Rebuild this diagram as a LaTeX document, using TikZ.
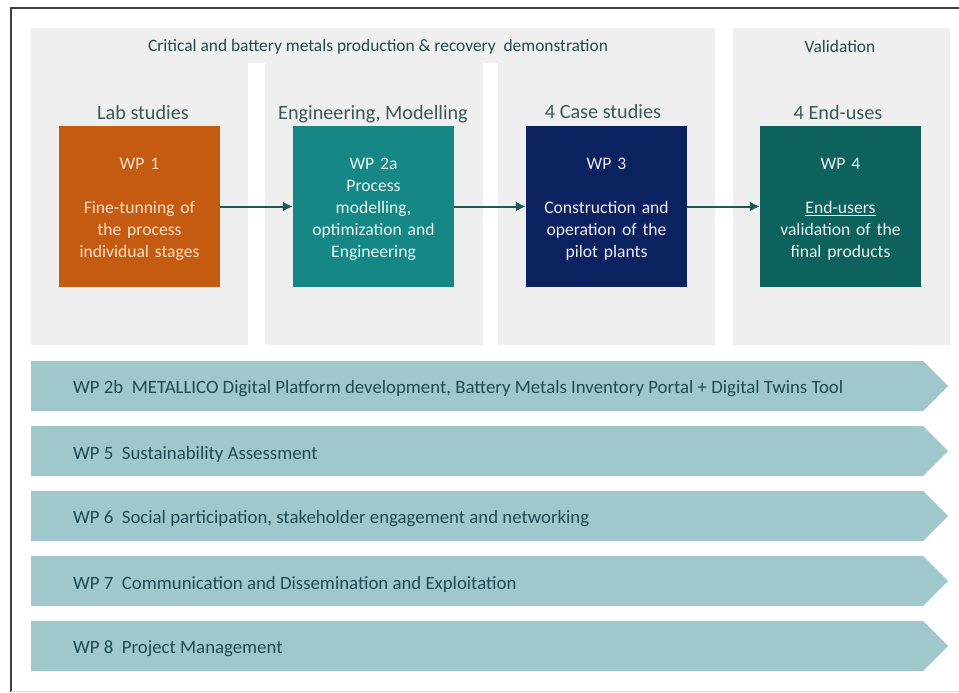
\documentclass[tikz,border=0pt]{standalone}
\usepackage{fontspec}
\setmainfont{Carlito}
\usetikzlibrary{arrows.meta}
\definecolor{panelgray}{HTML}{EFEFEF}
\definecolor{bandfill}{HTML}{A0C8CC}
\definecolor{bandtext}{HTML}{1E4A54}
\definecolor{headtext}{HTML}{1F4C4E}
\definecolor{subtext}{HTML}{3A5858}
\definecolor{wporange}{HTML}{C55A11}
\definecolor{wpteal}{HTML}{158886}
\definecolor{wpnavy}{HTML}{0C2160}
\definecolor{wpdark}{HTML}{0E625C}
\definecolor{arrowcol}{HTML}{1F5858}
\definecolor{peach}{HTML}{FBE2CF}
\tikzset{
  panel/.style={fill=panelgray, draw=none},
  wpbox/.style={minimum width=161pt, minimum height=161pt, inner sep=0pt,
    align=center, text width=158pt, font=\fontsize{17.6}{22}\selectfont, draw=none},
  wptext/.style={align=center, text width=158pt, inner sep=0pt,
    font=\fontsize{17.6}{22}\selectfont},
  flowarrow/.style={draw=arrowcol, line width=2pt, -{Latex[length=10pt,width=10pt]}},
  headlabel/.style={text=headtext, font=\fontsize{17.4}{19}\selectfont},
  sublabel/.style={text=subtext, font=\fontsize{20.2}{22}\selectfont},
  bandlabel/.style={text=bandtext, font=\fontsize{18.8}{21}\selectfont, anchor=west, inner sep=0pt},
  band/.style={fill=bandfill, draw=none}
}
\begin{document}
\begin{tikzpicture}[x=1pt,y=-1pt]
\useasboundingbox (0,0) rectangle (959,693);
\fill[white] (0,0) rectangle (959,693);

% outer frame
\draw[draw=black!75, line width=1.6pt] (11,692) -- (11,8) -- (962,8);
\draw[draw=black!15, line width=1pt] (11,691) -- (962,691);

% grey phase panels
\fill[panel] (31,28) rectangle (715,345);
\fill[panel] (733,28) rectangle (950,345);
\fill[white] (248,63) rectangle (265,346);
\fill[white] (483,63) rectangle (498,346);

% panel titles
\node[headlabel] (demo) at (378,46.5) {Critical and battery metals production \& recovery\ \ demonstration};
\node[headlabel] (valid) at (840,46.5) {Validation};
\node[sublabel] (lab) at (143,113) {Lab studies};
\node[sublabel] (eng) at (373,114) {Engineering, Modelling};
\node[sublabel] (cases) at (603,112) {4 Case studies};
\node[sublabel] (uses) at (838,113) {4 End-uses};

% work package boxes (text set slightly below the box centre)
\node[wpbox, fill=wporange] (wp1) at (139.5,206.5) {};
\node[wpbox, fill=wpteal] (wp2a) at (373.5,206.5) {};
\node[wpbox, fill=wpnavy] (wp3) at (606.5,206.5) {};
\node[wpbox, fill=wpdark] (wp4) at (840.5,206.5) {};
\node[wptext, text=peach] (t1) at ([yshift=-3pt]wp1.center)
  {WP 1\\[22pt]Fine-tunning of\\the process\\individual stages};
\node[wptext, text=white!92!wpteal] (t2a) at ([yshift=-3pt]wp2a.center)
  {WP 2a\\Process\\modelling,\\optimization and\\Engineering};
\node[wptext, text=white!92!wpnavy] (t3) at ([yshift=-3pt]wp3.center)
  {WP 3\\[22pt]Construction and\\operation of the\\pilot plants};
\node[wptext, text=white!92!wpdark] (t4) at ([yshift=-3pt]wp4.center)
  {WP 4\\[22pt]\underline{End-users}\\validation of the\\final products};

% flow between work packages
\draw[flowarrow] (wp1.east) -- (wp2a.west);
\draw[flowarrow] (wp2a.east) -- (wp3.west);
\draw[flowarrow] (wp3.east) -- (wp4.west);

% transversal work package bands
\foreach \y/\name/\lab/\txt in {
  361/b2b/WP 2b/METALLICO Digital Platform development{,} Battery Metals Inventory Portal + Digital Twins Tool,
  426/b5/WP 5/Sustainability Assessment,
  491/b6/WP 6/Social participation{,} stakeholder engagement and networking,
  556/b7/WP 7/Communication and Dissemination and Exploitation,
  621/b8/WP 8/Project Management}{
  \fill[band] (31,\y) -- (923,\y) -- (948,\y+25) -- (923,\y+50) -- (31,\y+50) -- cycle;
  \node[bandlabel] (\name) at (73,\y+28) {\lab\ \ \txt};
}
\end{tikzpicture}
\end{document}
